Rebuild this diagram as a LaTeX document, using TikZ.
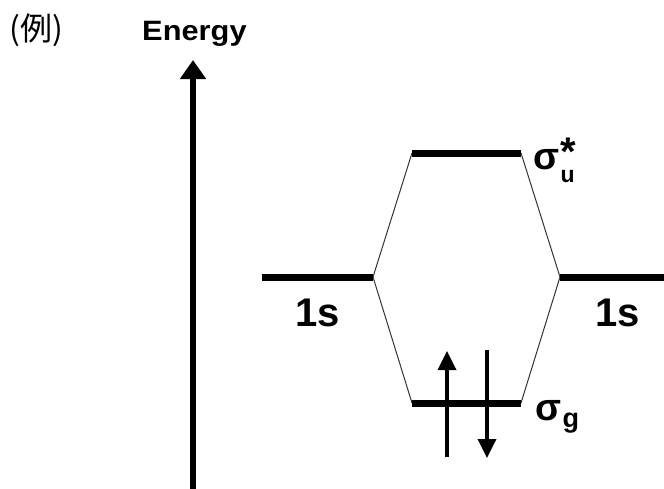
\documentclass[tikz,border=0pt]{standalone}
\usepackage{fontspec}
\setmainfont{Liberation Sans}
\newfontfamily\cjk{Noto Sans CJK JP}
\usetikzlibrary{arrows.meta}
\begin{document}
\begin{tikzpicture}[x=1pt,y=-1pt,
  level/.style={line width=7pt},
  corr/.style={line width=1pt,draw=black!80},
  lbl/.style={inner sep=0pt,font=\bfseries},
  spin/.style={line width=3.5pt,-{Triangle[length=19pt,width=18pt]}}]
\useasboundingbox (0,0) rectangle (664,488);
% title texts
\node[inner sep=0pt,anchor=base west,font=\cjk\fontsize{32}{32}\selectfont] (rei) at (9,40) {(例)};
\node[lbl,anchor=base west,font=\bfseries\fontsize{28}{28}\selectfont,xscale=1.1] (energy) at (142,40) {Energy};
% energy axis
\coordinate (axb) at (193,492);
\coordinate (axt) at (193,60);
\draw[line width=5.5pt,-{Triangle[length=19pt,width=25pt]}] (axb) -- (axt);
% level end points
\coordinate (a1) at (262,277); \coordinate (a2) at (373,277);
\coordinate (b1) at (560,277); \coordinate (b2) at (668,277);
\coordinate (u1) at (412,153); \coordinate (u2) at (521,153);
\coordinate (g1) at (412,403); \coordinate (g2) at (521,403);
% correlation lines
\draw[corr] (a2) -- (u1);
\draw[corr] (u2) -- (b1);
\draw[corr] (a2) -- (g1);
\draw[corr] (g2) -- (b1);
% levels
\draw[level] (a1) -- (a2);
\draw[level] (b1) -- (b2);
\draw[level] (u1) -- (u2);
\draw[level] (g1) -- (g2);
% labels
\node[lbl,anchor=base west,font=\bfseries\fontsize{40}{40}\selectfont] (s1) at (295,326) {1s};
\node[lbl,anchor=base west,font=\bfseries\fontsize{40}{40}\selectfont] (s2) at (595,326) {1s};
\node[lbl,anchor=base west,font=\bfseries\fontsize{38}{38}\selectfont] (su) at (533,169) {σ};
\node[lbl,anchor=base west,font=\bfseries\fontsize{23}{23}\selectfont] (su2) at ([xshift=1pt,yshift=-13pt]su.base east) {u};
\node[lbl,anchor=base west,font=\bfseries\fontsize{40}{40}\selectfont] (star) at ([xshift=1pt,yshift=-17pt]su.north east) {*};
\node[lbl,anchor=base west,font=\bfseries\fontsize{38}{38}\selectfont] (sg) at (535,420) {σ};
\node[lbl,anchor=base west,font=\bfseries\fontsize{27}{27}\selectfont] (sg2) at ([xshift=1pt,yshift=-7pt]sg.base east) {g};
% electrons
\coordinate (e1b) at (447,457); \coordinate (e1t) at (447,351);
\coordinate (e2t) at (487,350); \coordinate (e2b) at (487,458);
\draw[spin] (e1b) -- (e1t);
\draw[spin] (e2t) -- (e2b);
\end{tikzpicture}
\end{document}
